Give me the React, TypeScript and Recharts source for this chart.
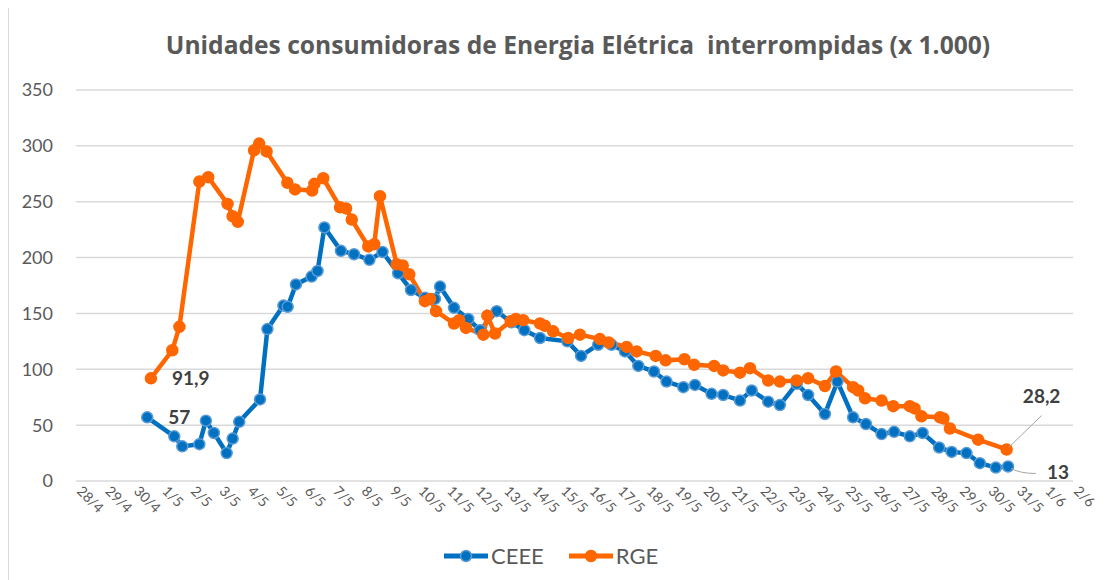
import React from "react";
import { LineChart, Line, XAxis, YAxis, CartesianGrid } from "recharts";

// x = days since 28/4 (28/4 = 0)
const dateLabels = [
  "28/4", "29/4", "30/4", "1/5", "2/5", "3/5", "4/5", "5/5", "6/5", "7/5", "8/5", "9/5",
  "10/5", "11/5", "12/5", "13/5", "14/5", "15/5", "16/5", "17/5", "18/5", "19/5", "20/5",
  "21/5", "22/5", "23/5", "24/5", "25/5", "26/5", "27/5", "28/5", "29/5", "30/5", "31/5",
  "1/6", "2/6",
];
const xTicks = [0, 1, 2, 3, 4, 5, 6, 7, 8, 9, 10, 11, 12, 13, 14, 15, 16, 17, 18, 19, 20, 21, 22, 23, 24, 25, 26, 27, 28, 29, 30, 31, 32, 33, 34, 35];
const yTicks = [0, 50, 100, 150, 200, 250, 300, 350];

const ceeeDays = [
  2.5, 3.45, 3.73, 4.33, 4.56, 4.84, 5.29, 5.5, 5.73, 6.46, 6.72, 7.28, 7.43, 7.72, 8.27, 8.48,
  8.72, 9.3, 9.76, 10.3, 10.76, 11.31, 11.76, 12.25, 12.6, 12.78, 13.27, 13.77, 14.18, 14.77,
  15.29, 15.74, 16.29, 17.25, 17.73, 18.33, 18.8, 19.27, 19.74, 20.29, 20.73, 21.32, 21.73,
  22.31, 22.72, 23.31, 23.72, 24.3, 24.71, 25.3, 25.7, 26.29, 26.73, 27.28, 27.73, 28.28,
  28.72, 29.27, 29.72, 30.3, 30.74, 31.26, 31.73, 32.29, 32.72,
];
const ceeeValues = [
  57, 40, 31, 33, 54, 43, 25, 38, 53, 73, 136, 157, 156, 176, 183, 188,
  227, 206, 203, 198, 205, 186, 171, 164, 163, 174, 155, 145, 135, 152,
  142, 135, 128, 125, 112, 122, 122, 116, 103, 98, 89, 84, 86,
  78, 77, 72, 81, 71, 68, 87, 77, 60, 89, 57, 51, 42,
  44, 40, 43, 30, 26, 25, 16, 12, 13,
];

const rgeDays = [
  2.63, 3.38, 3.63, 4.33, 4.64, 5.32, 5.5, 5.68, 6.25, 6.43, 6.69, 7.42, 7.69, 8.29, 8.37, 8.68,
  9.27, 9.48, 9.68, 10.26, 10.47, 10.67, 11.26, 11.47, 11.7, 12.25, 12.43, 12.64, 13.27, 13.45,
  13.69, 14.3, 14.44, 14.71, 15.26, 15.44, 15.7, 16.29, 16.46, 16.75, 17.28, 17.69, 18.39,
  18.7, 19.33, 19.68, 20.35, 20.7, 21.36, 21.7, 22.4, 22.72, 23.31, 23.66, 24.3, 24.71, 25.3,
  25.7, 26.29, 26.68, 27.28, 27.46, 27.7, 28.28, 28.69, 29.27, 29.44, 29.68, 30.33, 30.45,
  30.68, 31.67, 32.67,
];
const rgeValues = [
  91.9, 117, 138, 268, 272, 248, 237, 232, 296, 302, 295, 267, 261, 260, 266, 271,
  245, 244, 234, 210, 212, 255, 194, 193, 185, 161, 163, 152, 141, 144,
  137, 131, 148, 132, 143, 145, 144, 141, 139, 134, 128, 131, 127,
  124, 120, 116, 112, 108, 109, 104, 103, 99, 97, 101, 90, 89, 90,
  92, 85, 98, 84, 81, 74, 72, 67, 67, 65, 58, 57, 56,
  47, 37, 28.2,
];

const ceeeData = ceeeDays.map((d, i) => ({ d, v: ceeeValues[i] }));
const rgeData = rgeDays.map((d, i) => ({ d, v: rgeValues[i] }));

const BLUE = "#0070C0";
const BLUE_EDGE = "#5B9BD5";
const ORANGE = "#FF6600";
const TEXT = "#595959";
const LABEL = "#404040";
const FONT = "Lato, 'Open Sans', sans-serif";
const TITLE_FONT = "'Open Sans', Lato, sans-serif";

const fmt = (v: number) => String(v).replace(".", ",");

const XTick = (props: any) => {
  const { x, y, payload } = props;
  return (
    <text
      x={x}
      y={y}
      transform={`rotate(45 ${x} ${y})`}
      textAnchor="start"
      fontSize={14}
      fill={TEXT}
      fontFamily={FONT}
    >
      {dateLabels[payload.value]}
    </text>
  );
};

const makeLabel = (series: "ceee" | "rge") => (props: any) => {
  const { x, y, value, index } = props;
  const last = series === "ceee" ? ceeeValues.length - 1 : rgeValues.length - 1;
  const style = { fontSize: 19, fontWeight: 700, fill: LABEL, fontFamily: FONT } as any;
  if (index === 0) {
    return (
      <text key={`l${series}0`} x={x + 21} y={y + 7} {...style}>
        {fmt(value)}
      </text>
    );
  }
  if (index === last) {
    if (series === "rge") {
      return (
        <g key={`l${series}last`}>
          <line x1={x + 2} y1={y - 2} x2={x + 35} y2={y - 34} stroke="#A6A6A6" strokeWidth={1} />
          <text x={x + 35} y={y - 46} textAnchor="middle" {...style}>
            {fmt(value)}
          </text>
        </g>
      );
    }
    return (
      <g key={`l${series}last`}>
        <path d={`M${x + 3},${y + 2} Q${x + 12},${y + 7} ${x + 28},${y + 7}`} stroke="#A6A6A6" strokeWidth={1} fill="none" />
        <text x={x + 39} y={y + 13} {...style}>
          {fmt(value)}
        </text>
      </g>
    );
  }
  return null;
};

const LegendItem = ({ color, edge, label }: { color: string; edge: string; label: string }) => (
  <div style={{ display: "flex", alignItems: "center", marginRight: 24 }}>
    <svg width={46} height={14}>
      <line x1={1} y1={7} x2={45} y2={7} stroke={color} strokeWidth={5} />
      <circle cx={23} cy={7} r={5.5} fill={color} stroke={edge} strokeWidth={1.5} />
    </svg>
    <span style={{ fontSize: 22, color: TEXT, fontFamily: FONT, marginLeft: 2 }}>{label}</span>
  </div>
);

export default function App() {
  return (
    <div style={{ position: "relative", width: 1101, height: 572, background: "#fff" }}>
      <div
        style={{
          position: "absolute",
          left: 0,
          top: 0,
          width: 1107,
          height: 580,
          borderLeft: "1px solid #D9D9D9",
          pointerEvents: "none",
        }}
      />
      <div
        style={{
          position: "absolute",
          left: 0,
          width: 1140,
          top: 20,
          textAlign: "center",
          fontFamily: TITLE_FONT,
          fontWeight: 700,
          fontSize: 24.6,
          color: TEXT,
          whiteSpace: "pre",
        }}
      >
        {"Unidades consumidoras de Energia Elétrica  interrompidas (x 1.000)"}
      </div>
      <LineChart
        width={1101}
        height={572}
        margin={{ top: 82, right: 36, left: 0, bottom: 49 }}
      >
        <CartesianGrid vertical={false} stroke="#D9D9D9" strokeWidth={1.5} />
        <XAxis
          dataKey="d"
          type="number"
          domain={[0, 35]}
          ticks={xTicks}
          interval={0}
          height={50}
          axisLine={false}
          tickLine={false}
          tickSize={0}
          tickMargin={11}
          tick={<XTick />}
          allowDataOverflow
        />
        <YAxis
          type="number"
          domain={[0, 350]}
          ticks={yTicks}
          width={68}
          axisLine={false}
          tickLine={false}
          tickSize={0}
          tickMargin={23}
          tick={{ fontSize: 18, fill: TEXT, fontFamily: FONT }}
        />
        <Line
          data={ceeeData}
          dataKey="v"
          type="linear"
          stroke={BLUE}
          strokeWidth={4.5}
          dot={{ r: 5.5, fill: BLUE, stroke: BLUE_EDGE, strokeWidth: 1.5 }}
          activeDot={false}
          isAnimationActive={false}
          label={makeLabel("ceee")}
        />
        <Line
          data={rgeData}
          dataKey="v"
          type="linear"
          stroke={ORANGE}
          strokeWidth={4.5}
          dot={{ r: 5.5, fill: ORANGE, stroke: ORANGE, strokeWidth: 1.5 }}
          activeDot={false}
          isAnimationActive={false}
          label={makeLabel("rge")}
        />
      </LineChart>
      <div
        style={{
          position: "absolute",
          left: 435,
          top: 534,
          display: "flex",
          alignItems: "center",
        }}
      >
        <LegendItem color={BLUE} edge={BLUE_EDGE} label="CEEE" />
        <LegendItem color={ORANGE} edge={ORANGE} label="RGE" />
      </div>
    </div>
  );
}
